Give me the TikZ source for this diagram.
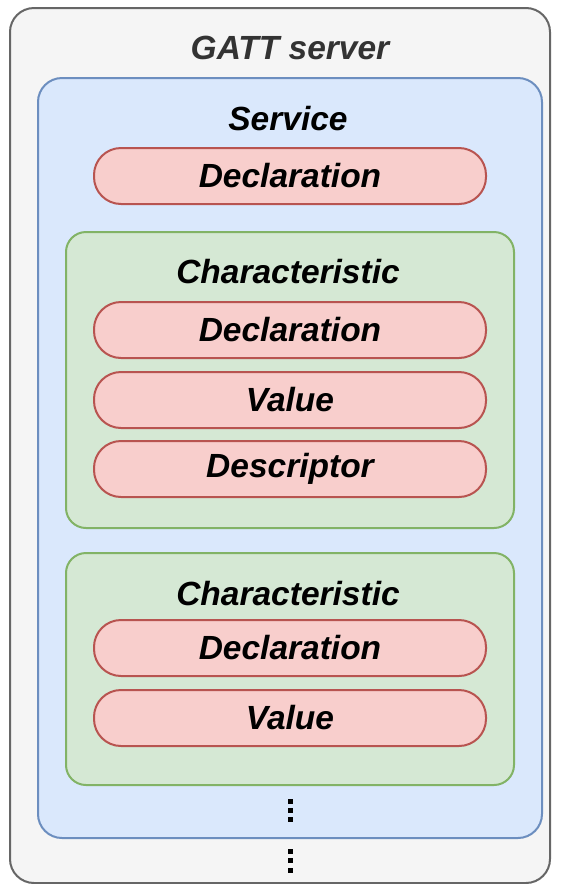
\documentclass[tikz,border=0pt]{standalone}
\usepackage{fontspec}
\setmainfont{Liberation Sans}
\usepackage{tikz}
\usetikzlibrary{shapes,backgrounds}

\definecolor{srvfill}{HTML}{F5F5F5}
\definecolor{srvdraw}{HTML}{666666}
\definecolor{svcfill}{HTML}{DAE8FC}
\definecolor{svcdraw}{HTML}{6C8EBF}
\definecolor{chrfill}{HTML}{D5E8D4}
\definecolor{chrdraw}{HTML}{82B366}
\definecolor{attfill}{HTML}{F8CECC}
\definecolor{attdraw}{HTML}{B85450}
\definecolor{lbltext}{HTML}{333333}

\tikzset{
  serverbox/.style={draw=srvdraw, fill=srvfill, line width=2pt,
    rounded corners=24pt, inner sep=0pt},
  servicebox/.style={draw=svcdraw, fill=svcfill, line width=2pt,
    rounded corners=24pt, inner sep=0pt},
  charbox/.style={draw=chrdraw, fill=chrfill, line width=2pt,
    rounded corners=20pt, inner sep=0pt, minimum width=448pt},
  attrpill/.style={draw=attdraw, fill=attfill, line width=2pt,
    rounded corners=27pt, inner sep=0pt, minimum width=392pt,
    minimum height=56pt},
  vdot/.style={fill=black, minimum size=5pt, inner sep=0pt}
}

\begin{document}
\begin{tikzpicture}[x=1pt, y=-1pt, text=black,
    font=\fontsize{33.5}{40}\selectfont\bfseries\itshape]
\useasboundingbox (0,0) rectangle (560,884);

% server
\node (server) [serverbox, minimum width=540pt, minimum height=875pt]
  at (280,445.5) {};
\path (290,48) node (serverlbl) [text=lbltext] {GATT server};

% service
\node (service) [servicebox, minimum width=504pt, minimum height=760pt]
  at (290,458) {};
\path (288,119) node (servicelbl) {Service};
\node (svcdecl) [attrpill] at (290,176) {Declaration};

% first characteristic
\node (charA) [charbox, minimum height=296pt] at (290,380) {};
\path (288,272) node (charAlbl) {Characteristic};
\node (charAdecl) [attrpill] at (290,330) {Declaration};
\node (charAval)  [attrpill] at (290,400) {Value};
\node (charAdesc) [attrpill] at (290,469) {Descriptor};

% second characteristic
\node (charB) [charbox, minimum height=232pt] at (290,669) {};
\path (288,594) node (charBlbl) {Characteristic};
\node (charBdecl) [attrpill] at (290,648) {Declaration};
\node (charBval)  [attrpill] at (290,718) {Value};

% more characteristics / services
\foreach \y/\n in {801/a,810/b,819/c}
  \node (svcdot\n) [vdot] at (290,\y) {};
\foreach \y/\n in {851/a,860/b,870/c}
  \node (srvdot\n) [vdot] at (290,\y) {};

\end{tikzpicture}
\end{document}
